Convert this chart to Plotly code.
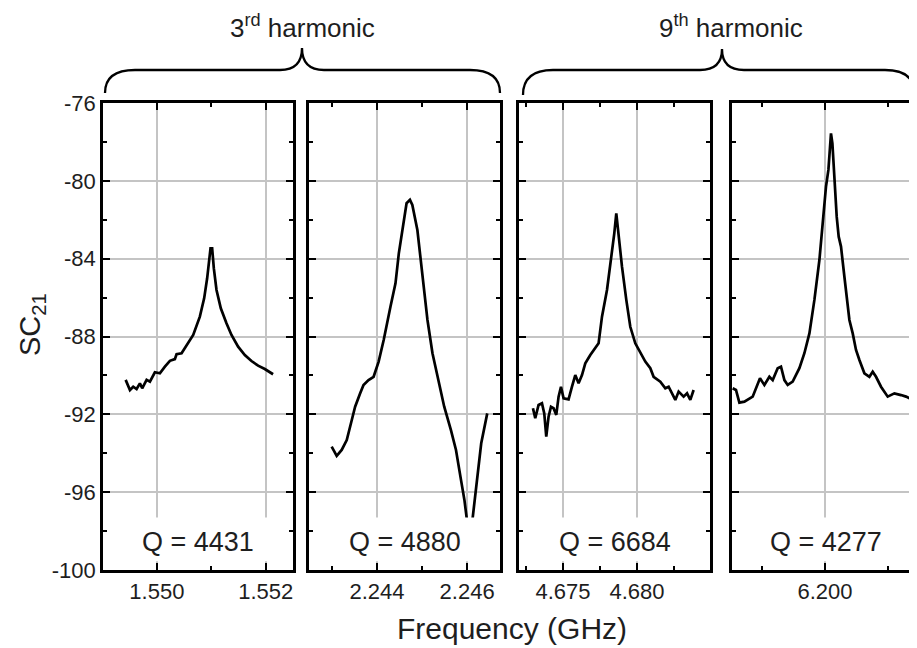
import plotly.graph_objects as go

W, H = 917, 648
OFF = 8  # page body margin

# measured spectra, frequency in GHz, SC21 in dB
p1_freq = [1.549426, 1.549505, 1.549565, 1.549627, 1.549688, 1.549730, 1.549811, 1.549872,
           1.549963, 1.550055, 1.550147, 1.550239, 1.550330, 1.550361, 1.550453, 1.550545,
           1.550667, 1.550789, 1.550868, 1.550923, 1.550960, 1.550985, 1.551015, 1.551046,
           1.551095, 1.551174, 1.551278, 1.551370, 1.551492, 1.551615, 1.551737, 1.551859,
           1.551982, 1.552073, 1.552134]
p1_sc21 = [-90.23, -90.75, -90.58, -90.70, -90.41, -90.66, -90.23, -90.32,
           -89.84, -89.89, -89.55, -89.25, -89.16, -88.91, -88.86, -88.44,
           -87.92, -86.98, -86.04, -85.01, -83.98, -83.47, -83.47, -84.50,
           -85.61, -86.55, -87.32, -87.92, -88.52, -88.95, -89.26, -89.50,
           -89.67, -89.84, -89.94]

p2_freq = [2.242993, 2.243105, 2.243216, 2.243328, 2.243440, 2.243514, 2.243626, 2.243700,
           2.243812, 2.243924, 2.244036, 2.244148, 2.244298, 2.244410, 2.244484, 2.244582,
           2.244656, 2.244731, 2.244784, 2.244896, 2.245008, 2.245120, 2.245231, 2.245343,
           2.245492, 2.245641, 2.245753, 2.245865, 2.245940, 2.246060, 2.246201, 2.246313,
           2.246447]
p2_sc21 = [-93.66, -94.14, -93.83, -93.32, -92.29, -91.61, -90.92, -90.49,
           -90.24, -90.07, -89.29, -88.18, -86.47, -85.27, -83.73, -82.18,
           -81.15, -80.98, -81.24, -82.53, -84.75, -87.15, -88.86, -90.07,
           -91.61, -92.81, -93.83, -95.38, -96.40, -98.60, -95.72, -93.49,
           -91.95]

p3_freq = [4.672973, 4.673128, 4.673351, 4.673581, 4.673736, 4.673872, 4.674027, 4.674189,
           4.674365, 4.674547, 4.674703, 4.674865, 4.675041, 4.675378, 4.675608, 4.675831,
           4.676054, 4.676284, 4.676507, 4.676845, 4.677405, 4.677635, 4.677973, 4.678243,
           4.678466, 4.678601, 4.678716, 4.678986, 4.679277, 4.679547, 4.679885, 4.680223,
           4.680561, 4.680899, 4.681122, 4.681574, 4.681912, 4.682135, 4.682588, 4.682811,
           4.683149, 4.683378, 4.683601, 4.683824]
p3_sc21 = [-91.69, -92.20, -91.52, -91.43, -91.95, -93.15, -92.12, -91.61,
           -91.69, -92.03, -91.09, -90.58, -91.18, -91.23, -90.58, -89.98,
           -90.40, -89.98, -89.38, -88.95, -88.35, -86.98, -85.61, -84.07,
           -82.70, -81.67, -82.53, -84.41, -86.12, -87.50, -88.35, -88.86,
           -89.29, -89.63, -90.07, -90.32, -90.66, -90.58, -91.26, -90.83,
           -91.09, -90.92, -91.26, -90.75]

p4_freq = [6.192674, 6.192936, 6.193206, 6.193603, 6.194262, 6.194579, 6.194841, 6.195190,
           6.195587, 6.195849, 6.196246, 6.196508, 6.196778, 6.197040, 6.197436, 6.197968,
           6.198365, 6.198762, 6.199159, 6.199556, 6.199817, 6.200079, 6.200270, 6.200397,
           6.200476, 6.200587, 6.200746, 6.200929, 6.201087, 6.201270, 6.201540, 6.201802,
           6.201937, 6.202199, 6.202461, 6.202730, 6.203127, 6.203524, 6.203786, 6.204048,
           6.204445, 6.204976, 6.205508, 6.206032, 6.206429, 6.206960, 6.207278]
p4_sc21 = [-90.66, -90.75, -91.40, -91.35, -91.09, -90.58, -90.15, -90.49,
           -90.07, -90.24, -89.63, -89.55, -90.24, -90.49, -90.32, -89.63,
           -88.86, -87.84, -86.12, -84.07, -82.01, -80.30, -79.44, -78.07,
           -77.56, -78.07, -80.12, -81.84, -82.87, -83.38, -84.93, -86.47,
           -87.15, -87.84, -88.69, -89.21, -89.89, -90.07, -89.81, -90.07,
           -90.58, -91.09, -90.92, -91.01, -91.09, -91.26, -91.43]

q_labels = ["Q = 4431", "Q = 4880", "Q = 6684", "Q = 4277"]
x_major = [[1.550, 1.552], [2.244, 2.246], [4.675, 4.680], [6.200]]
x_major_text = [["1.550", "1.552"], ["2.244", "2.246"], ["4.675", "4.680"], ["6.200"]]
x_minor = [[1.551], [2.243, 2.245], [4.6725, 4.6775, 4.6825], [6.195, 6.205]]
x_ranges = [[1.54901, 1.5525], [2.24249, 2.24673], [4.67203, 4.68493], [6.19262, 6.20746]]
y_major = [-100, -96, -92, -88, -84, -80, -76]
y_minor = [-98, -94, -90, -86, -82, -78]
harmonic_labels = ["3<sup>rd</sup> harmonic", "9<sup>th</sup> harmonic"]

FONT = "Liberation Sans, Arial, sans-serif"
TXT = "#1e1e1e"

# panel placement in screen pixels
panel_px = [(103, 293), (309, 500), (519, 710), (732, 919)]
top_px, bot_px = 103, 570


def pxx(x):
    return min(1.0, (x - OFF) / W)


def pxy(y):
    return 1 - (y - OFF) / H


freqs = [p1_freq, p2_freq, p3_freq, p4_freq]
vals = [p1_sc21, p2_sc21, p3_sc21, p4_sc21]

fig = go.Figure()
layout = dict(
    width=W, height=H, autosize=False,
    margin=dict(l=0, r=0, t=0, b=0, pad=0, autoexpand=False),
    plot_bgcolor="white", paper_bgcolor="white",
    showlegend=False,
    font=dict(family=FONT, color=TXT),
)

for i in range(4):
    sfx = "" if i == 0 else str(i + 1)
    fig.add_trace(go.Scatter(
        x=freqs[i], y=vals[i], mode="lines",
        line=dict(color="black", width=2.7),
        xaxis="x" + sfx, yaxis="y" + sfx,
    ))
    layout["xaxis" + sfx] = dict(
        domain=[pxx(panel_px[i][0]), pxx(panel_px[i][1])],
        anchor="y" + sfx, range=x_ranges[i], automargin=False,
        tickmode="array", tickvals=x_major[i], ticktext=x_major_text[i],
        ticks="inside", ticklen=7, tickwidth=2, tickcolor="black",
        showline=True, linecolor="black", linewidth=2.5, mirror="ticks",
        showgrid=True, gridcolor="#c4c4c4", gridwidth=2, zeroline=False,
        tickfont=dict(size=22, color=TXT),
        minor=dict(tickmode="array", tickvals=x_minor[i], ticks="inside",
                   ticklen=4, tickwidth=2, tickcolor="black", showgrid=False),
    )
    layout["yaxis" + sfx] = dict(
        domain=[pxy(bot_px), pxy(top_px)],
        anchor="x" + sfx, range=[-100, -76], automargin=False,
        tickmode="array", tickvals=y_major, ticktext=[str(v) for v in y_major],
        ticks="inside", ticklen=7, tickwidth=2, tickcolor="black",
        showline=True, linecolor="black", linewidth=2.5, mirror="ticks",
        showgrid=True, gridcolor="#c4c4c4", gridwidth=2, zeroline=False,
        showticklabels=(i == 0),
        tickfont=dict(size=22, color=TXT),
        minor=dict(tickmode="array", tickvals=y_minor, ticks="inside",
                   ticklen=4, tickwidth=2, tickcolor="black", showgrid=False),
    )

shapes = []
annotations = []
for i in range(4):
    sfx = "" if i == 0 else str(i + 1)
    # white label box hiding grid and trace under the Q value
    shapes.append(dict(
        type="rect", xref="x" + sfx + " domain", yref="y" + sfx,
        x0=0.03, x1=0.97, y0=-99.55, y1=-97.3,
        fillcolor="white", line=dict(width=0), layer="above",
    ))
    annotations.append(dict(
        text=q_labels[i], xref="paper", yref="y" + sfx,
        x=pxx(sum(panel_px[i][:2]) / 2 if i < 3 else 826), y=-98.55,
        xanchor="center", yanchor="middle",
        showarrow=False, font=dict(size=27, color=TXT),
    ))


def brace(x0, x1, xc, y_end, y_h, y_tip):
    r = 30
    pts = "M {:.5f},{:.5f} Q {:.5f},{:.5f} {:.5f},{:.5f} L {:.5f},{:.5f} Q {:.5f},{:.5f} {:.5f},{:.5f}".format(
        pxx(x0), pxy(y_end), pxx(x0), pxy(y_h), pxx(x0 + r), pxy(y_h),
        pxx(xc - 22), pxy(y_h), pxx(xc), pxy(y_h), pxx(xc), pxy(y_tip))
    pts += " Q {:.5f},{:.5f} {:.5f},{:.5f} L {:.5f},{:.5f} Q {:.5f},{:.5f} {:.5f},{:.5f}".format(
        pxx(xc), pxy(y_h), pxx(xc + 22), pxy(y_h),
        pxx(x1 - r), pxy(y_h), pxx(x1), pxy(y_h), pxx(x1), pxy(y_end))
    return dict(type="path", xref="paper", yref="paper", path=pts,
                line=dict(color="black", width=2.3))


shapes.append(brace(105, 500, 302, 93, 70, 48))
shapes.append(brace(523, 915, 722, 95, 70, 49))


def label(text, x, y, size, angle=0):
    return dict(text=text, xref="paper", yref="paper", x=pxx(x), y=pxy(y),
                xanchor="center", yanchor="middle", showarrow=False,
                textangle=angle, font=dict(size=size, color=TXT))


annotations.append(label(harmonic_labels[0], 302, 26, 26))
annotations.append(label(harmonic_labels[1], 731, 26, 26))
annotations.append(label("Frequency (GHz)", 512, 628, 30))
annotations.append(label("SC<sub>21</sub>", 32, 325, 29, -90))

layout["shapes"] = shapes
layout["annotations"] = annotations
fig.update_layout(**layout)

fig.write_html("out.html")
